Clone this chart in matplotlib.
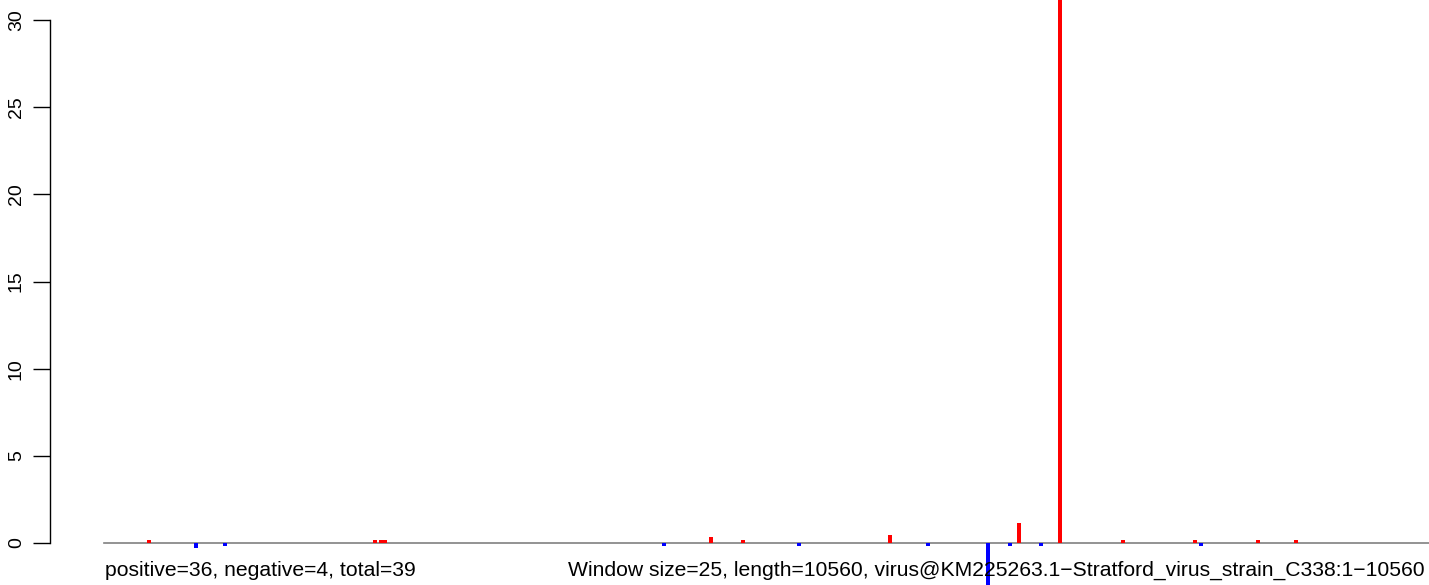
import matplotlib
matplotlib.use("Agg")
import matplotlib.pyplot as plt

plt.rcParams['font.family'] = ['Liberation Sans', 'DejaVu Sans']

# window positions (nt) and scores
pos_x = [350, 2150, 2200, 2230, 4835, 5090, 6260, 7290, 7615, 8120, 8695, 9195, 9500]
pos_y = [0.17, 0.17, 0.17, 0.17, 0.35, 0.17, 0.45, 1.15, 40.0, 0.17, 0.17, 0.17, 0.17]
neg_x = [725, 955, 4460, 5535, 6565, 7045, 7220, 7465, 8740]
neg_y = [-0.3, -0.15, -0.15, -0.15, -0.15, -2.6, -0.15, -0.15, -0.15]
seq_len = 10560
yticks = [0, 5, 10, 15, 20, 25, 30]

fig = plt.figure(figsize=(14.29, 5.85), dpi=100, facecolor='white')
ax = fig.add_axes([50 / 1429, 0, 1 - 50 / 1429, 1])
ax.set_xlim(-439, seq_len)
ax.set_ylim(-2.41, 31.15)

ax.plot([-10, seq_len], [0, 0], color='#808080', lw=1.2, zorder=1)
ax.bar(pos_x, pos_y, width=32, color='red', zorder=2)
ax.bar(neg_x, neg_y, width=32, color='blue', zorder=2)

for s in ['top', 'right', 'bottom']:
    ax.spines[s].set_visible(False)
ax.spines['left'].set_bounds(0, 30)
ax.spines['left'].set_linewidth(1.0)
ax.set_xticks([])
ax.set_yticks(yticks)
ax.set_yticklabels([str(t) for t in yticks], rotation=90, va='center', fontsize=14)
ax.tick_params(axis='y', length=12, width=1.0, pad=6)

ax.text(0, -1.55, 'positive=36, negative=4, total=39', fontsize=15.2, va='center', ha='left')
ax.text(3690, -1.55,
        'Window size=25, length=10560, virus@KM225263.1\u2212Stratford_virus_strain_C338:1\u221210560',
        fontsize=15.2, va='center', ha='left', clip_on=False)

fig.savefig('out.png', dpi=100)
